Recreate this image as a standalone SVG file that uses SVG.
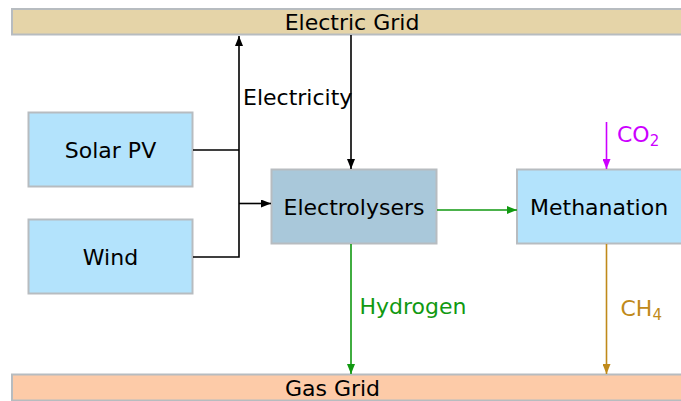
<svg xmlns="http://www.w3.org/2000/svg" width="681" height="401" viewBox="0 0 681 401">
<defs>
<style>
text{font-family:"DejaVu Sans","Verdana",sans-serif;font-size:22px;}
.box{fill:#b3e3fc;stroke:#b7bcc0;stroke-width:2;}
.el{fill:#a9c8da;stroke:#b7bcc0;stroke-width:2;}
.eg{fill:#e5d4a8;stroke:#b7bcc0;stroke-width:2;}
.gg{fill:#fdcba8;stroke:#b7bcc0;stroke-width:2;}
.k{stroke:#000;stroke-width:1.6;fill:none;}
.g{stroke:#119911;stroke-width:1.6;fill:none;}
.m{stroke:#cc00ff;stroke-width:1.6;fill:none;}
.o{stroke:#c08a1a;stroke-width:1.6;fill:none;}
</style>
<marker id="ak" markerWidth="10" markerHeight="8" refX="10" refY="4" orient="auto" markerUnits="userSpaceOnUse"><path d="M0,0 L10,4 L0,8 Z" fill="#000"/></marker>
<marker id="ag" markerWidth="10" markerHeight="8" refX="10" refY="4" orient="auto" markerUnits="userSpaceOnUse"><path d="M0,0 L10,4 L0,8 Z" fill="#119911"/></marker>
<marker id="am" markerWidth="10" markerHeight="8" refX="10" refY="4" orient="auto" markerUnits="userSpaceOnUse"><path d="M0,0 L10,4 L0,8 Z" fill="#cc00ff"/></marker>
<marker id="ao" markerWidth="10" markerHeight="8" refX="10" refY="4" orient="auto" markerUnits="userSpaceOnUse"><path d="M0,0 L10,4 L0,8 Z" fill="#c08a1a"/></marker>
</defs>
<g id="electric-grid"><rect class="eg" x="12" y="9" width="680" height="25.5"/><text x="352" y="29.5" text-anchor="middle">Electric Grid</text></g>
<g id="gas-grid"><rect class="gg" x="12" y="374.5" width="680" height="26"/><text x="332.5" y="395.5" text-anchor="middle">Gas Grid</text></g>
<g id="solar-pv"><rect class="box" x="28.5" y="112.5" width="164" height="74"/><text x="110.5" y="158" text-anchor="middle">Solar PV</text></g>
<g id="wind"><rect class="box" x="28.5" y="219.5" width="164" height="74"/><text x="110.5" y="264.5" text-anchor="middle">Wind</text></g>
<g id="electrolysers"><rect class="el" x="271.5" y="169.5" width="165" height="74"/><text x="354" y="215" text-anchor="middle">Electrolysers</text></g>
<g id="methanation"><rect class="box" x="517" y="169.5" width="170" height="74"/><text x="530" y="214.5">Methanation</text></g>
<g id="connectors">
<path class="k" d="M193,150 H239 M193,257 H239 V36" marker-end="url(#ak)"/>
<path class="k" d="M239,203.5 H271" marker-end="url(#ak)"/>
<path class="k" d="M351,35 V169" marker-end="url(#ak)"/>
<path class="g" d="M437,210 H517" marker-end="url(#ag)"/>
<path class="g" d="M351,244 V374" marker-end="url(#ag)"/>
<path class="m" d="M606.5,122 V169" marker-end="url(#am)"/>
<path class="o" d="M606.5,244 V374" marker-end="url(#ao)"/>
<text x="243" y="105">Electricity</text>
<text x="359.5" y="314" fill="#119911">Hydrogen</text>
<text x="617" y="142" fill="#cc00ff">CO<tspan font-size="15" dy="4">2</tspan></text>
<text x="620.5" y="316" fill="#c08a1a">CH<tspan font-size="15" dy="4">4</tspan></text>
</g>
</svg>
